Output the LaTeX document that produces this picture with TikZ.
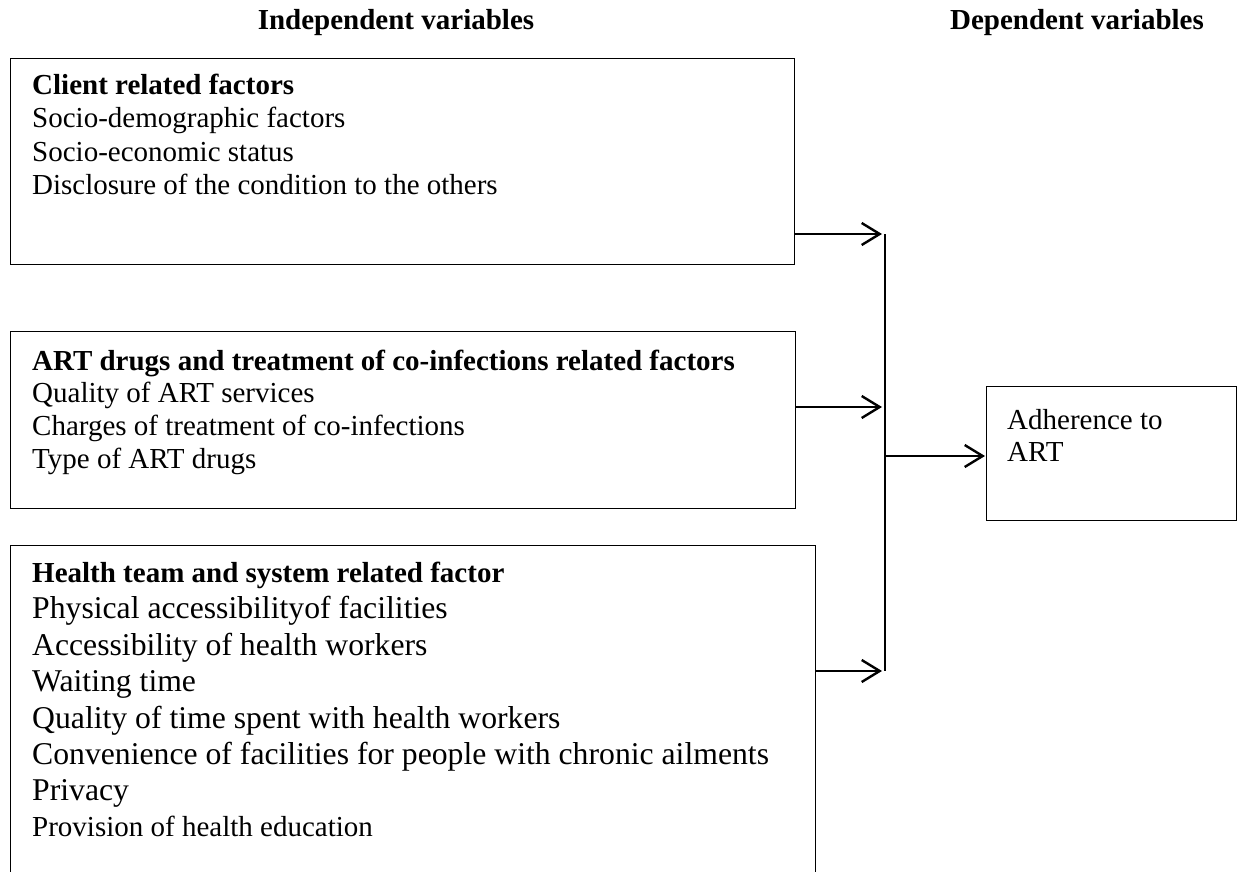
\documentclass[tikz,border=0pt]{standalone}
\usepackage{fontspec}
\setmainfont{Liberation Serif}
\usetikzlibrary{arrows.meta}
\begin{document}
\begin{tikzpicture}[x=1pt,y=-1pt,
  box/.style={draw, line width=1.3pt, inner sep=0pt, anchor=north west},
  txt/.style={anchor=base west, inner sep=0pt, font=\fontsize{29}{33}\selectfont},
  hd/.style={anchor=base west, inner sep=0pt, font=\fontsize{29}{33}\selectfont\bfseries},
  ttl/.style={anchor=base, inner sep=0pt, font=\fontsize{29}{33}\selectfont\bfseries},
  big/.style={anchor=base west, inner sep=0pt, font=\fontsize{31.7}{36}\selectfont},
  arr/.style={line width=2.4pt, -{Straight Barb[length=18pt,width=22pt,line width=2.4pt]}, shorten >=3pt},
  ]
\clip (0,0) rectangle (1243,872);
\useasboundingbox (0,0) rectangle (1243,872);

% headings
\node[ttl] (hind) at (396,30) {Independent variables};
\node[ttl] (hdep) at (1077,30) {Dependent variables};

% boxes
\node[box, minimum width=784pt, minimum height=206pt] (b1) at (10,58) {};
\node[box, minimum width=785pt, minimum height=177pt] (b2) at (10,331) {};
\node[box, minimum width=805pt, minimum height=345pt] (b3) at (10,545) {};
\node[box, minimum width=250pt, minimum height=134pt] (adh) at (986,386) {};

% box 1 text
\node[hd]  (t1a) at (32,95)  {Client related factors};
\node[txt] (t1b) at (32,128) {Socio-demographic factors};
\node[txt] (t1c) at (32,162) {Socio-economic status};
\node[txt] (t1d) at (32,195) {Disclosure of the condition to the others};

% box 2 text
\node[hd]  (t2a) at (32,370) {ART drugs and treatment of co-infections related factors};
\node[txt] (t2b) at (32,402) {Quality of ART services};
\node[txt] (t2c) at (32,435) {Charges of treatment of co-infections};
\node[txt] (t2d) at (32,468) {Type of ART drugs};

% box 3 text
\node[hd]  (t3a) at (32,582) {Health team and system related factor};
\node[big] (t3b) at (32,618) {Physical accessibilityof facilities};
\node[big] (t3c) at (32,655) {Accessibility of health workers};
\node[big] (t3d) at (32,691) {Waiting time};
\node[big] (t3e) at (32,728) {Quality of time spent with health workers};
\node[big] (t3f) at (32,764) {Convenience of facilities for people with chronic ailments};
\node[big] (t3g) at (32,800) {Privacy};
\node[txt] (t3h) at (32,836) {Provision of health education};

% dependent text
\node[txt] (ta) at (1007,429) {Adherence to};
\node[txt] (tb) at (1007,461) {ART};

% connectors
\coordinate (jt) at (885,234);
\coordinate (j2) at (885,407);
\coordinate (jm) at (885,456);
\coordinate (jb) at (885,671);
\draw[line width=1.8pt] (jt) -- (jb);
\draw[arr] (b1.east |- jt) -- (jt);
\draw[arr] (b2.east |- j2) -- (j2);
\draw[arr] (b3.east |- jb) -- (jb);
\draw[arr, shorten >=1pt] (jm) -- (adh.west |- jm);
\end{tikzpicture}
\end{document}
